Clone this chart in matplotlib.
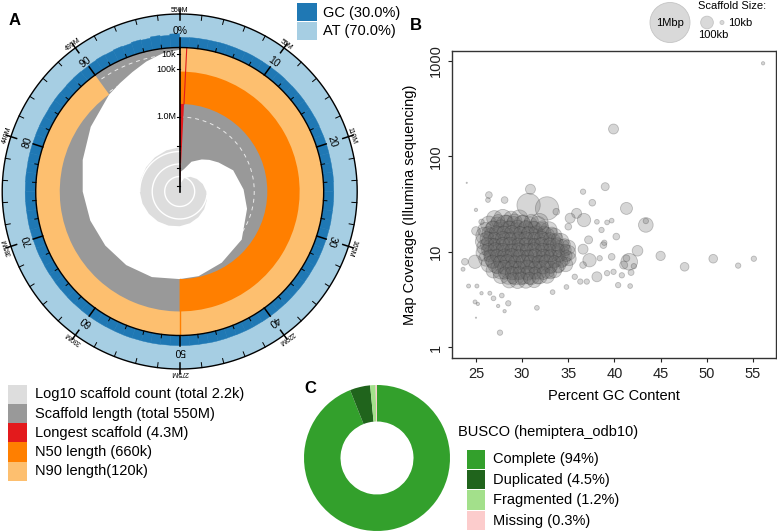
import numpy as np
import matplotlib.pyplot as plt
from matplotlib.patches import Wedge, Circle, Rectangle, Polygon

plt.rcParams['font.family'] = ['Liberation Sans', 'DejaVu Sans']

# ---------------- panel A: snail plot data ----------------
assembly_mb = 550
longest_kb = 4300
n50_kb = 660
n90_kb = 120

# scaffold length (kb) at cumulative percent of the assembly
len_pos = [0, 0.78, 0.8, 3, 6, 9.6, 12, 14.8, 19, 24.5, 29, 35.5, 41.5, 46.5, 50,
           55, 60, 65, 70, 75, 80, 85, 90, 92, 94, 96, 98, 100]
len_kb = [4300, 4300, 3200, 3050, 2600, 2290, 2100, 1890, 1550, 1330, 1150, 890, 780, 680, 660,
          605, 583, 561, 518, 458, 366, 240, 120, 85, 50, 20, 5, 1]

# cumulative scaffold count at cumulative percent
cnt_pos = [0, 1, 2, 5, 10, 15, 20, 25, 30, 35, 40, 45, 50, 55, 60, 65, 70, 75, 80, 85, 90, 95, 100]
cnt_n = [1, 2, 3, 8, 18, 32, 55, 85, 120, 165, 220, 295, 380, 470, 580, 700, 850, 1000,
         1150, 1300, 1500, 1800, 2200]

# GC (%) in each 1% bin of the assembly
gc_bins = [30.2, 30.5, 30.1, 29.9, 30.3, 30.0, 29.8, 30.4, 30.1, 29.9,
           30.0, 30.3, 29.7, 30.1, 30.2, 29.9, 30.0, 30.4, 29.8, 30.1,
           30.2, 29.9, 30.0, 30.3, 29.8, 30.1, 30.0, 29.7, 30.2, 30.0,
           29.9, 30.1, 30.3, 29.8, 30.0, 30.2, 29.9, 30.1, 29.8, 30.0,
           30.1, 29.9, 30.2, 30.0, 29.7, 30.1, 30.3, 29.9, 30.0, 30.2,
           30.0, 29.8, 30.2, 30.1, 29.9, 30.3, 30.0, 29.8, 30.1, 30.2,
           30.3, 30.0, 30.4, 30.1, 30.5, 30.2, 30.6, 30.3, 30.8, 30.5,
           30.9, 31.2, 30.8, 31.0, 31.4, 31.1, 31.6, 31.3, 31.8, 32.0,
           31.7, 32.2, 32.5, 32.1, 32.8, 33.2, 32.6, 33.5, 34.0, 33.4,
           34.6, 35.8, 34.9, 36.5, 35.2, 37.8, 36.0, 39.5, 37.2, 41.0]

leg_a_labels = ['Log10 scaffold count (total 2.2k)', 'Scaffold length (total 550M)',
                'Longest scaffold (4.3M)', 'N50 length (660k)', 'N90 length(120k)']
leg_a_colors = ['#dddddd', '#999999', '#e31a1c', '#ff7f00', '#fdbf6f']
gc_labels = ['GC (30.0%)', 'AT (70.0%)']

# ---------------- panel B: blob plot data ----------------
# isolated scaffolds: GC %, coverage, size (kb)
out_gc = [24.0, 30.9, 26.4, 26.3, 30.7, 32.7, 31.9, 28.1, 25.0, 25.0, 25.6, 23.8, 23.6, 24.9,
          24.2, 25.1, 25.6, 24.9, 25.2, 25.0, 27.6, 26.9, 27.4, 28.1, 28.5, 31.6, 27.8, 26.5,
          36.6, 39.0, 37.6, 35.9, 36.7, 35.2, 38.1, 39.2, 39.7, 40.2, 38.8, 37.2, 39.7, 38.4,
          37.3, 38.1, 39.2, 39.9, 40.4, 37.0, 36.3, 34.8, 33.3, 35.7, 36.6, 38.6, 33.7, 35.0,
          36.6, 56.1, 39.9, 41.3, 43.4, 43.4, 38.9, 42.5, 45.0, 41.6, 41.3, 41.0, 42.1, 41.8,
          40.8, 47.6, 50.7, 53.4, 55.1, 41.7]
out_cov = [53, 45.4, 39.5, 35, 31, 28.6, 20.7, 35, 27.6, 16.6, 20.7, 7.9, 6.6, 7.9,
           4.4, 4.4, 3.7, 3.0, 2.86, 2.05, 1.43, 3.27, 2.72, 2.4, 2.9, 2.6, 3.5, 3.7,
           42.8, 48.3, 32.8, 25.4, 21.6, 22.6, 20.7, 20.4, 21.3, 14.5, 11.8, 13.4, 8.9, 8.6,
           8.2, 5.5, 6.0, 6.2, 4.5, 4.9, 4.9, 4.3, 3.8, 5.5, 7.3, 17.0, 26.4, 18.4,
           10.7, 946, 194, 28.6, 19.2, 21.1, 12.5, 10.3, 9.1, 7.9, 8.6, 7.3, 7.1, 6.1,
           5.7, 7.0, 8.5, 7.2, 8.5, 4.4]
out_kb = [1, 62, 28, 14, 340, 340, 174, 28, 7, 47, 18, 28, 10, 111,
          10, 10, 7, 10, 7, 1, 18, 14, 7, 7, 18, 14, 14, 10,
          18, 40, 28, 62, 111, 62, 14, 14, 14, 28, 28, 40, 28, 18,
          111, 62, 18, 18, 18, 18, 18, 14, 14, 18, 28, 18, 28, 28,
          62, 7, 62, 90, 134, 18, 18, 71, 54, 174, 28, 40, 18, 22,
          18, 47, 47, 18, 18, 14]

# main cloud of scaffolds (two interleaved sets of rows)
blob_cov = ([22.5] * 4 + [19.5] * 7 + [17.0] * 9 + [14.8] * 10 + [12.9] * 11 + [11.2] * 12
            + [9.8] * 12 + [8.5] * 12 + [7.4] * 11 + [6.4] * 9 + [5.6] * 7 + [5.0] * 4)
blob_gc = [27.0, 27.9, 28.8, 29.7,
           26.4, 27.3, 28.2, 29.1, 30.0, 30.9, 31.7,
           26.0, 26.9, 27.8, 28.6, 29.5, 30.4, 31.2, 32.1, 32.9,
           25.9, 26.7, 27.5, 28.4, 29.2, 30.1, 30.9, 31.8, 32.6, 33.5,
           25.8, 26.6, 27.4, 28.3, 29.1, 30.0, 30.8, 31.7, 32.5, 33.4, 34.2,
           25.9, 26.7, 27.5, 28.4, 29.2, 30.1, 30.9, 31.8, 32.6, 33.5, 34.3, 35.0,
           25.9, 26.7, 27.5, 28.3, 29.1, 30.0, 30.8, 31.7, 32.5, 33.4, 34.2, 35.0,
           26.1, 26.9, 27.7, 28.5, 29.3, 30.2, 31.0, 31.9, 32.7, 33.6, 34.4, 35.1,
           26.4, 27.2, 28.0, 28.8, 29.6, 30.5, 31.3, 32.2, 33.0, 33.9, 34.7,
           26.9, 27.7, 28.5, 29.3, 30.1, 31.0, 31.8, 32.7, 33.5,
           27.7, 28.5, 29.3, 30.2, 31.0, 31.9, 32.7,
           28.6, 29.5, 30.4, 31.3]
blob_kb = [150, 200, 130, 180,
           170, 130, 210, 150, 190, 120, 160,
           140, 190, 160, 210, 130, 180, 200, 140, 170,
           180, 150, 210, 140, 190, 170, 220, 150, 180, 140,
           160, 200, 140, 210, 180, 150, 200, 170, 190, 140, 160,
           140, 190, 170, 220, 150, 200, 180, 210, 160, 180, 150, 130,
           170, 150, 210, 180, 200, 160, 220, 180, 200, 150, 170, 140,
           140, 200, 170, 190, 220, 180, 200, 160, 180, 170, 140, 120,
           150, 180, 210, 170, 200, 190, 160, 200, 180, 150, 130,
           140, 180, 160, 200, 180, 170, 190, 150, 130,
           140, 170, 190, 160, 180, 150, 130,
           130, 150, 140, 120]
blob2_cov = ([21.0] * 5 + [18.2] * 7 + [15.9] * 9 + [13.8] * 10 + [12.0] * 11 + [10.5] * 11
             + [9.1] * 11 + [7.9] * 10 + [6.9] * 9 + [6.0] * 7 + [5.3] * 4)
blob2_gc = [27.4, 28.3, 29.2, 30.1, 31.0,
            26.8, 27.7, 28.6, 29.5, 30.4, 31.3, 32.2,
            26.3, 27.2, 28.0, 28.9, 29.8, 30.6, 31.5, 32.4, 33.2,
            26.2, 27.0, 27.9, 28.7, 29.6, 30.4, 31.3, 32.1, 33.0, 33.8,
            26.2, 27.0, 27.9, 28.7, 29.6, 30.4, 31.3, 32.1, 33.0, 33.8, 34.6,
            26.3, 27.1, 27.9, 28.8, 29.6, 30.5, 31.3, 32.2, 33.0, 33.9, 34.7,
            26.5, 27.3, 28.1, 28.9, 29.7, 30.6, 31.4, 32.3, 33.1, 34.0, 34.8,
            26.8, 27.6, 28.4, 29.2, 30.1, 30.9, 31.8, 32.6, 33.5, 34.3,
            27.3, 28.1, 28.9, 29.7, 30.6, 31.4, 32.3, 33.1, 33.9,
            28.1, 28.9, 29.7, 30.6, 31.4, 32.3, 33.1,
            29.0, 29.9, 30.8, 31.7]
blob2_kb = [110, 90, 130, 100, 120,
            100, 130, 90, 120, 110, 80, 100,
            90, 120, 110, 130, 100, 90, 120, 110, 80,
            120, 100, 130, 90, 110, 120, 100, 130, 90, 80,
            110, 90, 120, 130, 100, 110, 90, 120, 100, 110, 80,
            100, 130, 110, 90, 120, 100, 130, 110, 90, 100, 80,
            90, 110, 120, 130, 100, 90, 120, 110, 100, 90, 80,
            110, 100, 130, 90, 120, 110, 100, 120, 90, 80,
            100, 120, 110, 90, 130, 100, 110, 90, 80,
            90, 110, 100, 120, 90, 100, 80,
            80, 100, 90, 80]

size_leg_kb = [1000, 100, 10]

# ---------------- panel C: BUSCO data ----------------
busco_pct = [94, 4.5, 1.2, 0.3]
busco_labels = ['Complete (94%)', 'Duplicated (4.5%)', 'Fragmented (1.2%)', 'Missing (0.3%)']
busco_colors = ['#33a02c', '#20641c', '#a3e08b', '#fccccc']

W, H = 777, 532
fig = plt.figure(figsize=(W / 100, H / 100), dpi=100)

# ================= A =================
R_IN, R_OUT = 144.0, 177.5
cx, cy = 179.7, 191.5
ax_a = fig.add_axes([0, (H - 384) / H, 362 / W, 384 / H])
ax_a.set_xlim(-cx, 362 - cx)
ax_a.set_ylim(cy - 384, cy)
ax_a.axis('off')


def r_len(kb):
    return R_IN * (1 - np.sqrt(np.asarray(kb, float) / longest_kb))


def r_cnt(n):
    return 2.5 + 12.5 * np.log10(np.asarray(n, float))


def to_xy(pos, r):
    a = np.radians(np.asarray(pos, float) * 3.6)
    return r * np.sin(a), r * np.cos(a)


def wdg(p0, p1, r, width=None, **kw):
    return Wedge((0, 0), r, 90 - 3.6 * p1, 90 - 3.6 * p0, width=width, **kw)


# outer GC / AT ring
ax_a.add_patch(wdg(0, 100, R_OUT, R_OUT - R_IN, color='#a6cee3', lw=0, zorder=1))
for i, g in enumerate(gc_bins):
    w = (R_OUT - R_IN) * g / 100
    ax_a.add_patch(wdg(i, i + 1, R_IN + w, w, fc='#1f78b4', ec='#1f78b4', lw=0.3, zorder=1))

# scaffold length
ix, iy = to_xy(len_pos, r_len(len_kb))
arc = np.linspace(100, 0, 361)
ox, oy = to_xy(arc, np.full(arc.shape, R_IN))
ax_a.add_patch(Polygon(np.column_stack([np.r_[ix, ox], np.r_[iy, oy]]), closed=True,
                       fc='#999999', ec='none', zorder=1))

# length scale circles (hidden under the N50/N90 arcs)
full = np.linspace(0, 100, 400)
for L in [10, 100, 1000]:
    ax_a.plot(*to_xy(full, np.full(full.shape, r_len(L))), color='white', lw=0.7,
              dashes=(4, 4), alpha=0.8, zorder=1.05)

p_long = longest_kb / (assembly_mb * 1000) * 100
ax_a.add_patch(wdg(0, p_long, R_IN, color='#e31a1c', lw=0, zorder=1.1))
ax_a.add_patch(wdg(0, 50, R_IN, R_IN - r_len(n50_kb), color='#ff7f00', lw=0, zorder=1.1))
ax_a.add_patch(wdg(0, 90, R_IN, R_IN - r_len(n90_kb), color='#fdbf6f', lw=0, zorder=1.1))
lx, ly = to_xy([p_long, p_long], np.array([r_len(n50_kb), R_IN]))
ax_a.plot(lx, ly, color='#e31a1c', lw=0.8, zorder=1.15)
lx, ly = to_xy([50, 50], np.array([r_len(n50_kb), R_IN]))
ax_a.plot(lx, ly, color='#ff7f00', lw=1, zorder=1.15)

# log scaffold count spiral
sx, sy = to_xy(cnt_pos, r_cnt(cnt_n))
ax_a.add_patch(Polygon(np.column_stack([np.r_[0, sx, 0], np.r_[0, sy, 0]]), closed=True,
                       fc='#dddddd', ec='none', zorder=1.2))
for c in [10, 100, 1000]:
    p0 = np.interp(np.log10(c), np.log10(cnt_n), cnt_pos)
    pp = np.linspace(p0, 100, 200)
    ax_a.plot(*to_xy(pp, np.full(pp.shape, r_cnt(c))), color='white', lw=1, zorder=1.3)

for r in [R_IN, R_OUT]:
    ax_a.plot(*to_xy(full, np.full(full.shape, r)), color='black', lw=1)

# radial axis
ax_a.plot([0, 0], [0, R_IN], color='black', lw=1.2)
for L in [10, 100, 1000, 2000, 3000, 4000]:
    ax_a.plot([-3, 0], [r_len(L)] * 2, color='black', lw=0.8)
for L, t in [(10, '10k'), (100, '100k'), (1000, '1.0M')]:
    ax_a.text(-3.5, r_len(L), t, ha='right', va='center', fontsize=6.5)

# circumference ticks and labels
for p in range(0, 100, 2):
    major = p % 10 == 0
    r_ticks = [(R_IN, R_IN + 10), (R_OUT - 6, R_OUT + 5)] if major else \
              [(R_IN, R_IN + 3.5), (R_OUT - 5, R_OUT)]
    for r0, r1 in r_ticks:
        tx, ty = to_xy([p, p], np.array([r0, r1]))
        ax_a.plot(tx, ty, color='black', lw=1.1 if major else 0.7)
    if major:
        tx, ty = to_xy(p, 160)
        ax_a.text(tx, ty, '0%' if p == 0 else str(p), rotation=-3.6 * p, ha='center',
                  va='center', fontsize=7.5, rotation_mode='anchor')
        tx, ty = to_xy(p, 181)
        mb = assembly_mb if p == 0 else assembly_mb * p / 100
        ax_a.text(tx, ty, f'{mb:g}M', rotation=-3.6 * p, ha='center', va='center',
                  fontsize=5, rotation_mode='anchor')

# ================= B =================
x0, x1, y0, y1 = 451.7, 776, 50.7, 358
ax_b = fig.add_axes([x0 / W, (H - y1) / H, (x1 - x0) / W, (y1 - y0) / H])


def kb_to_s(kb):
    r_px = 20 * np.sqrt(np.asarray(kb, float) / 1000)
    return (2 * r_px * 0.72) ** 2


blob_style = dict(fc='#6e6e6e', ec='#333333', lw=0.6, alpha=0.28)
ax_b.scatter(blob_gc, blob_cov, s=kb_to_s(blob_kb), **blob_style)
ax_b.scatter(blob2_gc, blob2_cov, s=kb_to_s(blob2_kb), **blob_style)
ax_b.scatter(out_gc, out_cov, s=kb_to_s(out_kb), **blob_style)
ax_b.set_yscale('log')
ax_b.set_xlim(22.37, 57.5)
ax_b.set_ylim(0.776, 1282)
ax_b.set_xticks([25, 30, 35, 40, 45, 50, 55])
ax_b.set_yticks([1, 10, 100, 1000])
ax_b.set_yticklabels(['1', '10', '100', '1000'], rotation=90, va='center')
ax_b.minorticks_off()
ax_b.tick_params(direction='out', length=3.2, width=0.8, labelsize=10.5, pad=3,
                 colors='#222222')
for s in ax_b.spines.values():
    s.set_linewidth(1)
    s.set_color('#333333')
ax_b.set_xlabel('Percent GC Content', fontsize=10.5, labelpad=6)
ax_b.set_ylabel('Map Coverage (Illumina sequencing)', fontsize=10.5, labelpad=9)

# ================= C =================
ax_c = fig.add_axes([(377 - 73) / W, (H - 531) / H, 146 / W, 146 / H])
ax_c.pie(busco_pct, colors=busco_colors, startangle=90, counterclock=False, radius=1,
         wedgeprops=dict(width=0.5, linewidth=0))
ax_c.set_xlim(-1, 1)
ax_c.set_ylim(-1, 1)
ax_c.set_aspect('auto')

# ================= overlay: legends and panel letters =================
ov = fig.add_axes([0, 0, 1, 1], zorder=10)
ov.set_xlim(0, W)
ov.set_ylim(H, 0)
ov.axis('off')
ov.patch.set_alpha(0)

for i, (lab, col) in enumerate(zip(leg_a_labels, leg_a_colors)):
    yt = 384.5 + i * 19.3
    ov.add_patch(Rectangle((8.3, yt), 19, 19.3, fc=col, ec='none'))
    ov.text(35, yt + 9.8, lab, va='center', fontsize=10.5)

for i, (lab, col) in enumerate(zip(gc_labels, ['#1f78b4', '#a6cee3'])):
    yt = 3 + i * 18.8
    ov.add_patch(Rectangle((297, yt), 20, 18, fc=col, ec='none'))
    ov.text(323, yt + 9.5, lab, va='center', fontsize=10.5)

ov.text(458, 432, 'BUSCO (hemiptera_odb10)', va='center', fontsize=10.5)
for i, (lab, col) in enumerate(zip(busco_labels, busco_colors)):
    yt = 449.5 + i * 20.4
    ov.add_patch(Rectangle((467, yt), 18.3, 19.3, fc=col, ec='none'))
    ov.text(493, yt + 10, lab, va='center', fontsize=10.5)

# size legend for B
ov.text(698, 6, 'Scaffold Size:', va='center', fontsize=8)
for kb, xc in zip(size_leg_kb, [670, 707, 722]):
    ov.add_patch(Circle((xc, 22.5), 20 * np.sqrt(kb / 1000), fc='#d9d9d9', ec='#c4c4c4', lw=0.6))
ov.text(670, 22.5, '1Mbp', ha='center', va='center', fontsize=8)
ov.text(728, 23, '10kb', va='center', fontsize=8)
ov.text(698, 35, '100kb', va='center', fontsize=8)

for t, x, y in [('A', 15, 20.5), ('B', 416, 25), ('C', 310, 388.5)]:
    ov.text(x, y, t, ha='center', va='center', fontsize=12, fontweight='bold')

fig.savefig('out.png', dpi=100)
